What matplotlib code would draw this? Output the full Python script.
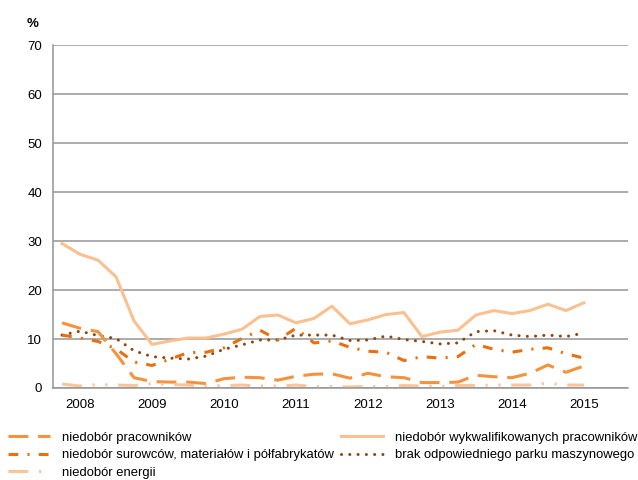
import matplotlib
matplotlib.use("Agg")
from matplotlib import pyplot as plt

plt.rcParams['font.family'] = ['Liberation Sans', 'DejaVu Sans']

YEARS = ['2008', '2009', '2010', '2011', '2012', '2013', '2014', '2015']

# quarterly readings, 30 points
pracownikow = [13.3, 12.2, 11.5, 7.0, 2.1, 1.3, 1.2, 1.2, 0.9, 1.9,
               2.2, 2.1, 1.6, 2.4, 2.8, 2.9, 2.0, 3.0, 2.3, 2.1,
               1.1, 1.1, 1.2, 2.6, 2.3, 2.1, 3.0, 4.7, 3.2, 4.5]
wykwalifikowanych = [29.5, 27.3, 26.1, 22.7, 13.7, 8.9, 9.6, 10.2, 10.2, 11.0,
                     12.0, 14.6, 14.9, 13.3, 14.2, 16.7, 13.1, 13.9, 15.0, 15.4,
                     10.5, 11.4, 11.8, 14.9, 15.8, 15.2, 15.8, 17.1, 15.8, 17.4]
surowcow = [10.8, 10.2, 9.5, 8.0, 5.3, 4.6, 5.9, 7.2, 7.3, 8.2,
            10.1, 11.8, 9.8, 12.2, 9.2, 9.6, 8.3, 7.5, 7.3, 5.6,
            6.4, 6.1, 6.4, 8.9, 7.9, 7.3, 7.9, 8.2, 7.0, 6.1]
parku = [10.8, 11.6, 10.7, 10.1, 7.6, 6.4, 6.1, 5.9, 6.5, 7.9,
         8.8, 9.8, 9.8, 10.8, 10.8, 10.8, 9.7, 9.8, 10.6, 9.9,
         9.5, 9.0, 9.2, 11.5, 11.7, 10.8, 10.5, 10.8, 10.5, 11.2]
energii = [0.8, 0.4, 0.7, 0.6, 0.5, 0.9, 0.7, 0.6, 0.4, 0.5,
           0.6, 0.4, 0.4, 0.6, 0.3, 0.3, 0.2, 0.3, 0.3, 0.5,
           0.4, 0.3, 0.5, 0.5, 0.6, 0.6, 0.6, 1.0, 0.6, 0.6]

LW = 2.2
x = list(range(len(pracownikow)))

fig = plt.figure(figsize=(6.38, 4.8), dpi=100)
ax = fig.add_axes([0.0823, 0.1917, 0.9017, 0.7143])

l_wyk, = ax.plot(x, wykwalifikowanych, color='#FBC090', lw=LW, solid_joinstyle='round',
                 label='niedobór wykwalifikowanych pracowników')
l_par, = ax.plot(x, parku, color='#8C4614', lw=LW, dashes=(0.01, 2.7), dash_capstyle='round',
                 label='brak odpowiedniego parku maszynowego')
l_sur, = ax.plot(x, surowcow, color='#E8700F', lw=LW, dashes=(3.2, 3.0, 0.7, 3.0),
                 label='niedobór surowców, materiałów i półfabrykatów')
l_pra, = ax.plot(x, pracownikow, color='#F5923E', lw=LW, dashes=(6.5, 3.2),
                 label='niedobór pracowników')
l_ene, = ax.plot(x, energii, color='#FBC49A', lw=LW, dashes=(6.5, 3.5, 0.7, 3.5, 0.7, 3.5),
                 label='niedobór energii')

ax.set_xlim(-0.53, 31.44)
ax.set_ylim(0, 70)
ax.set_yticks(range(0, 71, 10))
ax.set_xticks(range(1, 30, 4))
ax.set_xticklabels(YEARS)
ax.tick_params(axis='both', length=0, labelsize=9.5)
ax.tick_params(axis='y', pad=7.5)
ax.tick_params(axis='x', pad=8)
ax.grid(axis='y', color='#959595', lw=1.1)
ax.set_axisbelow(True)
for side in ['top', 'right']:
    ax.spines[side].set_visible(False)
for side in ['left', 'bottom']:
    ax.spines[side].set_color('#959595')
    ax.spines[side].set_linewidth(1.1)

fig.text(0.042, 0.95, '%', fontsize=9.5, fontweight='bold', va='center')

fig.legend(handles=[l_pra, l_sur, l_ene, l_wyk, l_par], ncol=2, loc='upper left',
           bbox_to_anchor=(0.0125, 0.101), frameon=False, fontsize=9.4,
           handlelength=3.2, handletextpad=0.9, columnspacing=0.6,
           labelspacing=0.42, borderpad=0, borderaxespad=0)

fig.savefig('out.png', dpi=100)
